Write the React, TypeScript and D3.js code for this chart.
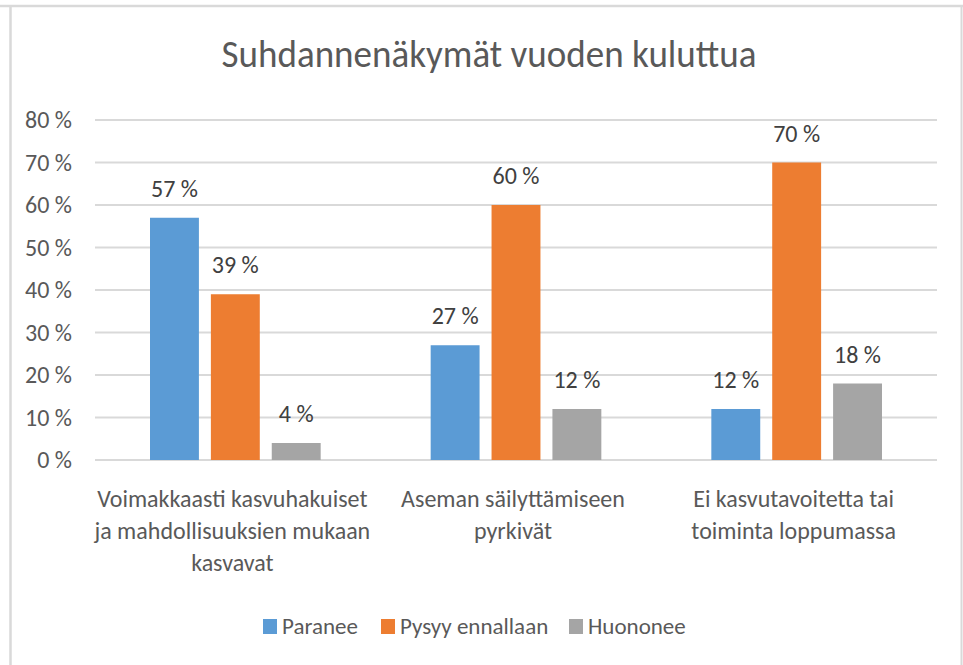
import React from "react"
import { scaleBand, scaleLinear, range } from "d3"

const width = 963
const height = 665

const title = "Suhdannenäkymät vuoden kuluttua"

const categories = [
  ["Voimakkaasti kasvuhakuiset", "ja mahdollisuuksien mukaan", "kasvavat"],
  ["Aseman säilyttämiseen", "pyrkivät"],
  ["Ei kasvutavoitetta tai", "toiminta loppumassa"],
]

const seriesNames = ["Paranee", "Pysyy ennallaan", "Huononee"]
const seriesColors = ["#5B9BD5", "#ED7D31", "#A5A5A5"]

const paranee = [57, 27, 12]
const pysyy = [39, 60, 70]
const huononee = [4, 12, 18]
const seriesValues = [paranee, pysyy, huononee]

const yTicks = [0, 10, 20, 30, 40, 50, 60, 70, 80]

const margin = { top: 120, right: 26, bottom: 205, left: 95 }

const font = "Carlito, 'Liberation Sans Narrow', 'DejaVu Sans Condensed', 'Open Sans', sans-serif"
const textColor = "#595959"
const gridColor = "#d9d9d9"

function App() {
  const innerWidth = width - margin.left - margin.right
  const innerHeight = height - margin.top - margin.bottom

  const xScale = scaleBand<number>()
    .domain(range(categories.length))
    .range([0, innerWidth])

  const groupPad = 55
  const xInner = scaleBand<number>()
    .domain(range(seriesNames.length))
    .range([groupPad, xScale.bandwidth() - groupPad])
    .paddingInner(12 / 61)

  const yScale = scaleLinear()
    .domain([0, 80])
    .range([innerHeight, 0])

  // legend layout (x start of each swatch)
  const legendX = [263, 381, 569]

  return (
    <svg
      width={width}
      height={height}
      style={{ position: "absolute", left: 0, top: 0, background: "#fff" }}
      fontFamily={font}
    >
      <rect x={0} y={0} width={width} height={height} fill="#fff" />
      {/* frame */}
      <line x1={0} x2={width} y1={6} y2={6} stroke={gridColor} strokeWidth={2.5} />
      <line x1={10.5} x2={10.5} y1={6} y2={height} stroke={gridColor} strokeWidth={2.5} />
      <line x1={961.5} x2={961.5} y1={6} y2={height} stroke={gridColor} strokeWidth={2} />

      <text
        x={489}
        y={67}
        textAnchor="middle"
        fontSize={38}
        fill={textColor}
        textLength={535}
        lengthAdjust="spacingAndGlyphs"
        style={{ fontWeight: 300 }}
      >
        {title}
      </text>

      <g transform={`translate(${margin.left}, ${margin.top})`}>
        {yTicks.map(t => (
          <g key={t} transform={`translate(0, ${yScale(t)})`}>
            <line x2={innerWidth} stroke={gridColor} strokeWidth={2} />
            <text
              x={-23}
              dy="0.35em"
              textAnchor="end"
              fontSize={24}
              fill={textColor}
            >
              {t} %
            </text>
          </g>
        ))}

        {categories.map((cat, ci) => (
          <g key={ci} transform={`translate(${xScale(ci)}, 0)`}>
            {seriesValues.map((vals, si) => {
              const v = vals[ci]
              const bx = xInner(si)!
              return (
                <g key={si}>
                  <rect
                    x={bx}
                    y={yScale(v)}
                    width={xInner.bandwidth()}
                    height={innerHeight - yScale(v)}
                    fill={seriesColors[si]}
                  />
                  <text
                    x={bx + xInner.bandwidth() / 2}
                    y={yScale(v) - 21}
                    textAnchor="middle"
                    fontSize={24}
                    fill="#404040"
                  >
                    {v} %
                  </text>
                </g>
              )
            })}
            {cat.map((line, li) => (
              <text
                key={li}
                x={xScale.bandwidth() / 2 - 3}
                y={innerHeight + 47 + li * 32}
                textAnchor="middle"
                fontSize={24}
                fill={textColor}
              >
                {line}
              </text>
            ))}
          </g>
        ))}
      </g>

      {seriesNames.map((name, i) => (
        <g key={name} transform={`translate(${legendX[i]}, 619)`}>
          <rect width={14} height={15} fill={seriesColors[i]} />
          <text x={19} y={15} fontSize={23} fill={textColor}>
            {name}
          </text>
        </g>
      ))}
    </svg>
  )
}

export default App
